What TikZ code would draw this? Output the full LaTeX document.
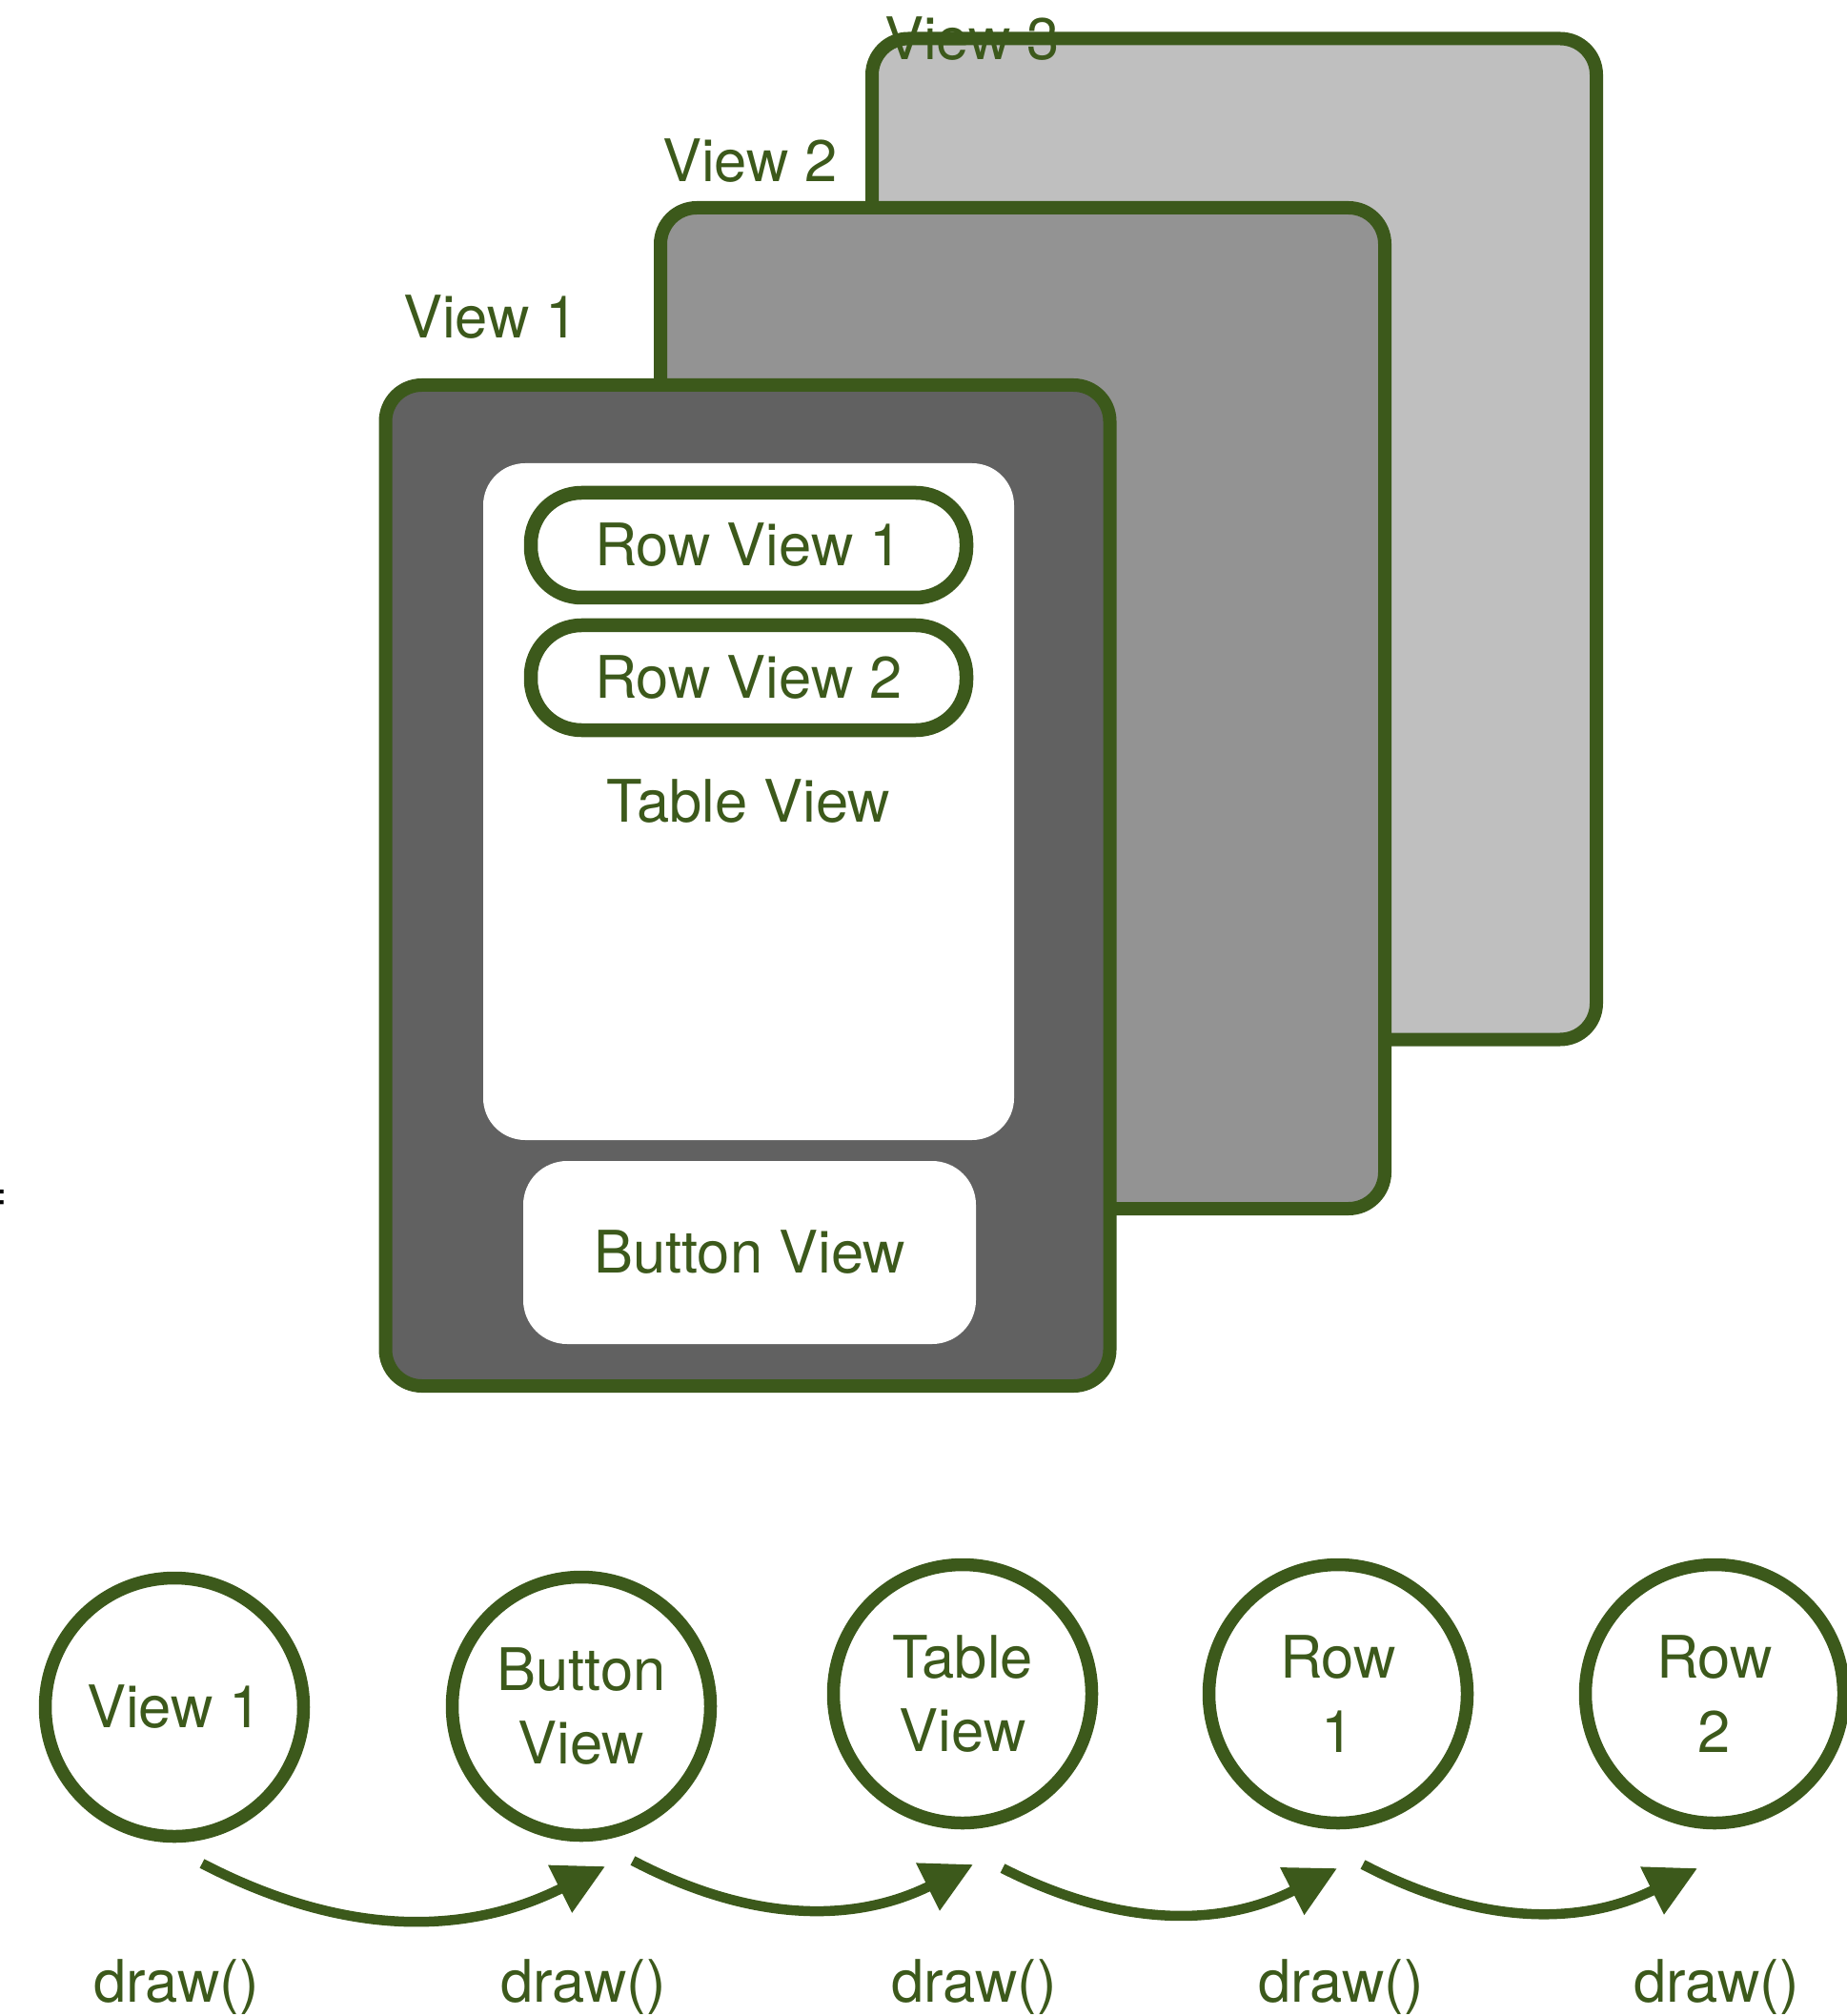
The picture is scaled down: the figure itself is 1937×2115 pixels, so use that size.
\documentclass[tikz,border=0pt]{standalone}
\usepackage{fontspec}
\setmainfont{TeX Gyre Heros}
\usetikzlibrary{arrows.meta}
\definecolor{viewgreen}{RGB}{60,89,27}
\definecolor{viewlight}{RGB}{191,191,191}
\definecolor{viewmid}{RGB}{147,147,147}
\definecolor{viewdark}{RGB}{97,97,97}

\begin{document}
\begin{tikzpicture}[x=0.1mm,y=-0.1mm,
    every node/.style={text=viewgreen,font=\fontsize{17.5}{22}\selectfont},
    card/.style={draw=viewgreen,line width=1.4mm,rounded corners=3.8mm,minimum width=76mm,minimum height=105mm,inner sep=0pt},
    panel/.style={fill=white,rounded corners=4.4mm,inner sep=0pt},
    rowbox/.style={draw=viewgreen,fill=white,line width=1.45mm,rounded corners=5.3mm,minimum width=45.7mm,minimum height=11mm,inner sep=0pt},
    callnode/.style={circle,draw=viewgreen,line width=1.35mm,minimum size=27.1mm,inner sep=0pt,align=center},
    flow/.style={draw=viewgreen,line width=1.05mm,-{Triangle[length=5.3mm,width=5.3mm]},bend right=27}]
    \useasboundingbox (0,0) rectangle (1937,2115);

    % The stacked views, back one first
    \foreach \name/\cx/\cy/\shade in {view3/1295/565.5/viewlight, view2/1073/743/viewmid, view1/784.5/929/viewdark}{
        \node[card,fill=\shade] (\name) at (\cx,\cy) {};
    }
    \node[anchor=base] (lab3) at (1020,63) {View 3};
    \node[anchor=base] (lab2) at (787,191) {View 2};
    \node[anchor=base] (lab1) at (515,355) {View 1};

    % Content of view 1
    \node[panel,minimum width=55.7mm,minimum height=71mm] (table) at (785.5,841) {Table View};
    \node[rowbox] (row1) at (785.5,572) {Row View 1};
    \node[rowbox] (row2) at (785.5,711) {Row View 2};
    \node[panel,rounded corners=4.6mm,minimum width=47.5mm,minimum height=19.2mm] (button) at (786.5,1314) {Button View};

    \node[anchor=base east,text=black,inner sep=0pt] (eqmark) at (9,1271) {=};

    % Draw order, one circle per call
    \foreach \name/\cx/\cy/\txt in {c1/183/1791/View 1, c2/610/1790/Button\\View, c3/1010/1777/Table\\View, c4/1404/1777/Row\\1, c5/1799/1777/Row\\2}{
        \node[callnode] (\name) at (\cx,\cy) {\txt};
    }
    \foreach \name/\cx in {d1/185, d2/612, d3/1022, d4/1407, d5/1801}{
        \node[anchor=base] (\name) at (\cx,2100) {draw()};
    }

    % Arrows between the calls
    \draw[flow] ([xshift=2.9mm,yshift=-16.4mm]c1.center) to ([xshift=2.5mm,yshift=-16.8mm]c2.center);
    \draw[flow] ([xshift=5.4mm,yshift=-16.2mm]c2.center) to ([xshift=1.1mm,yshift=-17.9mm]c3.center);
    \draw[flow] ([xshift=4.2mm,yshift=-18.3mm]c3.center) to ([xshift=-0.1mm,yshift=-18.3mm]c4.center);
    \draw[flow] ([xshift=2.6mm,yshift=-17.9mm]c4.center) to ([xshift=-1.8mm,yshift=-18.3mm]c5.center);
\end{tikzpicture}
\end{document}
